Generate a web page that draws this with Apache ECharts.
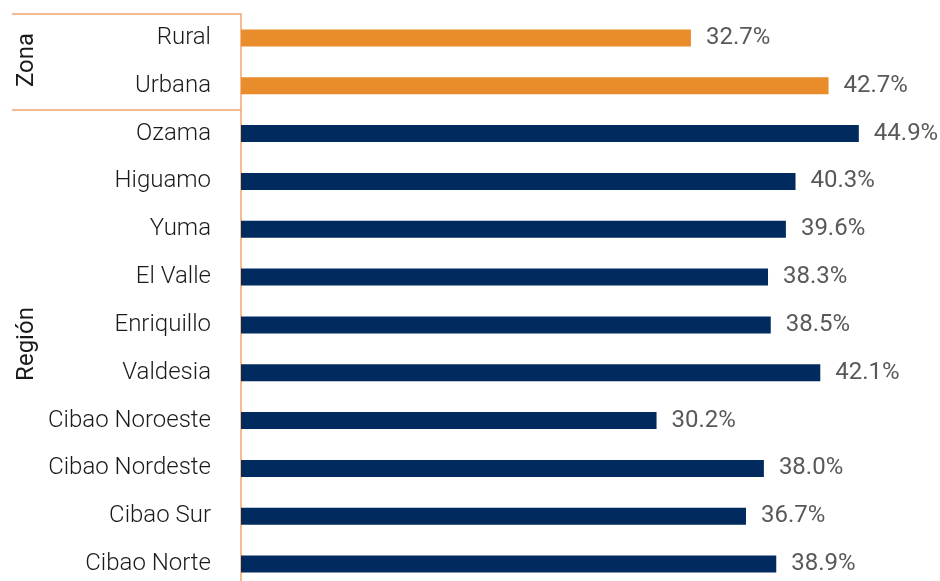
<!DOCTYPE html>
<html>
<head>
<meta charset="utf-8">
<script src="https://cdn.jsdelivr.net/npm/echarts@6/dist/echarts.min.js"></script>
<style>
    html, body { margin: 0; padding: 0; background: #ffffff; }
    #chart { width: 940px; height: 581px; }
</style>
</head>
<body>
<div id="chart"></div>
<script>
// categories, top to bottom
const categories = ['Rural', 'Urbana', 'Ozama', 'Higuamo', 'Yuma', 'El Valle', 'Enriquillo',
    'Valdesia', 'Cibao Noroeste', 'Cibao Nordeste', 'Cibao Sur', 'Cibao Norte'];
const values = [32.7, 42.7, 44.9, 40.3, 39.6, 38.3, 38.5, 42.1, 30.2, 38.0, 36.7, 38.9];
// first two rows are "Zona", the rest "Región"
const groups = ['Zona', 'Zona', 'Región', 'Región', 'Región', 'Región', 'Región',
    'Región', 'Región', 'Región', 'Región', 'Región'];
const groupColors = { 'Zona': '#e98c2c', 'Región': '#012a5e' };

const font = 'Roboto, "Noto Sans", sans-serif';
const lineColor = '#f4a470';

const chart = echarts.init(document.getElementById('chart'));

chart.setOption({
    animation: false,
    grid: { left: 241, right: 11, top: 14, height: 574, outerBoundsMode: 'none', containLabel: false },
    xAxis: {
        type: 'value', min: 0, max: 50, show: false
    },
    yAxis: {
        type: 'category',
        data: categories,
        inverse: true,
        axisLine: { show: true, lineStyle: { color: lineColor, width: 1.5 } },
        // long ticks draw the group separators
        axisTick: {
            show: true,
            length: 229,
            interval: function (i) { return i === 0 || i === 2; },
            lineStyle: { color: lineColor, width: 1.5 }
        },
        axisLabel: {
            margin: 30,
            color: '#1a1a1a',
            fontSize: 24,
            fontWeight: 300,
            fontFamily: font
        },
        splitLine: { show: false }
    },
    series: [{
        type: 'bar',
        barWidth: 17,
        data: values.map(function (v, i) {
            return { value: v, itemStyle: { color: groupColors[groups[i]] } };
        }),
        label: {
            show: true,
            position: 'right',
            distance: 15,
            color: '#595959',
            fontSize: 24,
            fontWeight: 'normal',
            fontFamily: font,
            formatter: function (p) { return p.value.toFixed(1) + '%'; }
        }
    }],
    graphic: [
        {
            type: 'text', x: 27, y: 60, rotation: Math.PI / 2,
            style: { text: 'Zona', fontSize: 24, fontFamily: font, fill: '#1a1a1a', align: 'center', verticalAlign: 'middle' }
        },
        {
            type: 'text', x: 27, y: 344, rotation: Math.PI / 2,
            style: { text: 'Región', fontSize: 24, fontFamily: font, fill: '#1a1a1a', align: 'center', verticalAlign: 'middle' }
        }
    ]
});
</script>
</body>
</html>
